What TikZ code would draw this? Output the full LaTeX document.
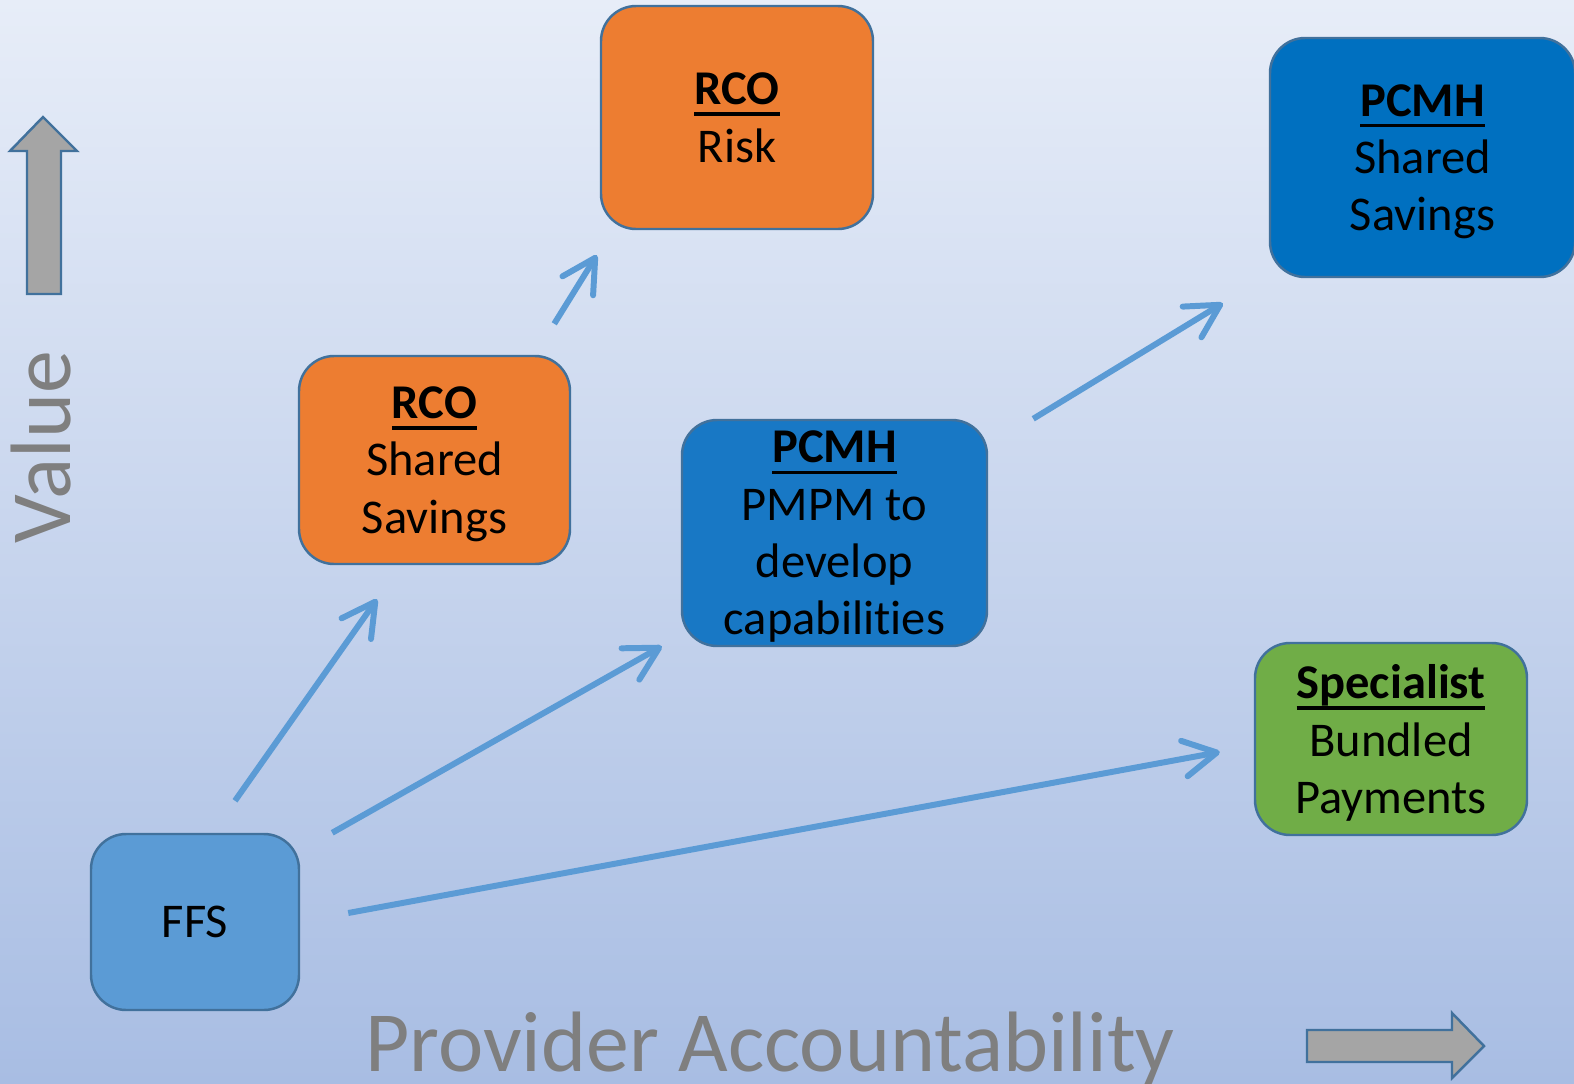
\documentclass[tikz,border=0pt]{standalone}
\usepackage{fontspec}
\setmainfont{Carlito}[Ligatures=NoCommon]
\usepackage{tikz}
\usetikzlibrary{arrows.meta, positioning, shapes}

\definecolor{bgtop}{HTML}{E7EDF8}
\definecolor{bgbottom}{HTML}{A8BDE3}
\definecolor{rim}{HTML}{41719C}
\definecolor{orangebox}{HTML}{ED7D31}
\definecolor{bluebox}{HTML}{0070C0}
\definecolor{midbluebox}{HTML}{1878C5}
\definecolor{lightbluebox}{HTML}{5B9BD5}
\definecolor{greenbox}{HTML}{70AD47}
\definecolor{axisgrey}{HTML}{A5A5A5}
\definecolor{labelgrey}{HTML}{7F7F7F}

\newsavebox{\headbox}
\newcommand{\head}[1]{\sbox{\headbox}{\textbf{#1}}\rlap{\rule[-3.1pt]{\wd\headbox}{0.9pt}}\usebox{\headbox}}

\begin{document}
\begin{tikzpicture}[x=0.1mm, y=-0.1mm,
	box/.style={draw=rim, line width=0.7pt, rounded corners=10pt, align=center, inner sep=0pt,
		text depth=0pt, font=\fontsize{13.8}{16.3}\selectfont},
	link/.style={draw=lightbluebox, line width=1.7pt, -{Straight Barb[length=3.3mm, width=3.6mm, round]}},
	axis/.style={draw=rim, fill=axisgrey, line width=0.7pt},
	caption/.style={text=labelgrey, inner sep=0pt, font=\fontsize{24.4}{29}\selectfont}]

\useasboundingbox (0,0) rectangle (1574,1084);
\shade [top color=bgtop, bottom color=bgbottom] (0,0) rectangle (1574,1084);

\path [axis] (27,294) -- (27,151) -- (10,151) -- (43,117) -- (77,151) -- (61,151) -- (61,294) -- cycle;
\path [axis] (1307,1030) -- (1452,1030) -- (1452,1013) -- (1484,1046) -- (1452,1078) -- (1452,1062) -- (1307,1062) -- cycle;

\node [caption, rotate=90, anchor=base] (7) at (70,447) {Value};
\node [caption, anchor=base] (8) at (770,1071) {Provider Accountability};

\node [box, fill=lightbluebox, minimum width=20.8mm, minimum height=17.6mm] (1) at (195,922) {FFS};

\node [box, fill=orangebox, minimum width=27.1mm, minimum height=20.8mm] (2) at (434.5,460) {
	\head{RCO} \\
	Shared \\
	Savings
};

\node [box, fill=orangebox, minimum width=27.2mm, minimum height=22.3mm] (3) at (737,117.5) {
	\head{RCO} \\
	Risk
};

\node [box, fill=midbluebox, minimum width=30.5mm, minimum height=22.6mm] (4) at (834.5,533) {
	\head{PCMH} \\
	PMPM to \\
	develop \\
	capabilities
};

\node [box, fill=bluebox, minimum width=30.5mm, minimum height=23.9mm] (5) at (1422.5,157.5) {
	\head{PCMH} \\
	Shared \\
	Savings
};

\node [box, fill=greenbox, minimum width=27.2mm, minimum height=19.2mm] (6) at (1391,739) {
	\head{Specialist} \\
	Bundled \\
	Payments
};

\path [link] ([shift={(40,-32)}]1.north) -- ([shift={(-57.5,34)}]2.south);
\path [link] ([shift={(32,0)}]1.north east) -- ([shift={(-19,-1)}]4.south west);
\path [link] ([shift={(48,-9)}]1.east) -- ([shift={(-34,13)}]6.west);
\path [link] ([shift={(-17,-31)}]2.north east) -- ([shift={(-3,25)}]3.south west);
\path [link] ([shift={(45,0)}]4.north east) -- ([shift={(-46,25)}]5.south west);

\end{tikzpicture}
\end{document}
